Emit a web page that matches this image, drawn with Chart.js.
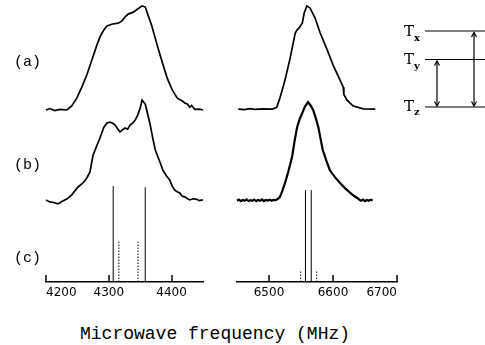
<!DOCTYPE html>
<html>
<head>
<meta charset="utf-8">
<script src="https://cdn.jsdelivr.net/npm/chart.js@4.4.1/dist/chart.umd.min.js"></script>
<style>
  html, body { margin: 0; padding: 0; background: #fff; }
  #wrap { position: relative; width: 485px; height: 345px; overflow: hidden; }
  canvas { position: absolute; top: 0; }
  #left { left: 0; }
  #right { left: 220px; }
  .row { position: absolute; left: 14px; font: 15px "Liberation Mono", monospace; color: #000; line-height: 1; }
  #title { position: absolute; left: 80px; top: 325px; font: 18px "Liberation Mono", monospace; white-space: nowrap; line-height: 1; }
  svg { position: absolute; left: 0; top: 0; }
</style>
</head>
<body>
<div id="wrap">
  <canvas id="left" width="215" height="299"></canvas>
  <canvas id="right" width="197" height="299"></canvas>
  <div class="row" style="top:55px">(a)</div>
  <div class="row" style="top:158px">(b)</div>
  <div class="row" style="top:251px">(c)</div>
  <div id="title">Microwave frequency (MHz)</div>
  <svg width="485" height="345">
    <g stroke="#000" stroke-width="1.2" fill="none">
      <line x1="425" y1="31" x2="485" y2="31"/>
      <line x1="425" y1="59.5" x2="485" y2="59.5"/>
      <line x1="425" y1="107" x2="485" y2="107"/>
      <line x1="437" y1="61" x2="437" y2="106"/>
      <polyline points="434.5,65.5 437,61 439.5,65.5"/>
      <polyline points="434.5,101.5 437,106 439.5,101.5"/>
      <line x1="474" y1="32.5" x2="474" y2="106"/>
      <polyline points="471.5,37 474,32.5 476.5,37"/>
      <polyline points="471.5,101.5 474,106 476.5,101.5"/>
    </g>
    <g font-family="DejaVu Serif" font-size="15" fill="#000">
      <text x="404" y="36">T<tspan font-size="10" font-weight="bold" dy="4.5">x</tspan></text>
      <text x="404" y="64">T<tspan font-size="10" font-weight="bold" dy="5">y</tspan></text>
      <text x="404" y="111">T<tspan font-size="10" font-weight="bold" dy="4">z</tspan></text>
    </g>
  </svg>
</div>
<script>
// trace (a), low-frequency band
const freqA1 = [4200, 4206, 4214, 4222, 4233, 4241, 4249, 4257, 4265, 4273, 4281, 4286, 4292, 4297, 4306, 4315, 4321, 4326, 4331, 4339, 4346, 4353, 4358, 4362, 4369, 4377, 4385, 4393, 4401, 4409, 4417, 4421, 4425, 4429, 4432, 4437, 4444, 4450];
const intA1 = [0, 0.5, -0.2, 0.2, 0, 1.4, 4.2, 8.1, 12.4, 17.7, 23.0, 25.9, 28.4, 29.8, 30.5, 30.8, 31.6, 33.0, 34.0, 34.7, 35.8, 36.9, 36.5, 34.0, 29.4, 23.0, 17.0, 11.3, 7.1, 4.2, 3.2, 2.5, 2.1, 1.0, 1.6, 0.2, 0.3, 0];
// trace (a), high-frequency band
const freqA2 = [6452, 6462, 6470, 6478, 6490, 6505, 6512, 6517, 6525, 6533, 6541, 6544, 6547, 6552, 6555, 6559, 6564, 6572, 6580, 6591, 6600, 6611, 6616, 6617, 6622, 6631, 6647, 6666];
const intA2 = [0.3, 0.1, 0.5, 0.2, 0.4, 0.3, 0.9, 4.2, 10.6, 18.4, 27.3, 28.4, 29.1, 30.8, 34.4, 36.9, 36.2, 32.6, 27.3, 21.3, 16.0, 10.6, 8.1, 5.5, 3.5, 1.5, 0.4, 0.3];
// trace (b), low-frequency band
const freqB1 = [4200, 4206, 4212, 4219, 4226, 4233, 4241, 4251, 4259, 4265, 4270, 4275, 4281, 4286, 4292, 4297, 4302, 4306, 4310, 4314, 4318, 4322, 4326, 4330, 4334, 4338, 4342, 4346, 4350, 4353, 4358, 4362, 4366, 4370, 4374, 4378, 4382, 4386, 4392, 4397, 4401, 4405, 4409, 4413, 4417, 4421, 4425, 4429, 4434, 4439, 4444, 4450];
const intB1 = [0.1, -0.6, -0.8, -1.3, -0.4, 0.4, 1.9, 4.7, 6.1, 7.9, 10.0, 16.0, 19.4, 22.1, 25.8, 27.4, 27.7, 27.3, 26.7, 25.3, 24.2, 25.0, 25.6, 25.2, 26.7, 27.3, 28.4, 30.2, 32.7, 35.5, 34.1, 30.5, 26.7, 22.0, 17.8, 15.5, 13.2, 10.7, 8.6, 7.2, 5.0, 3.6, 3.0, 2.6, 1.4, 1.2, 0.6, 0.1, 0.5, 0.4, -0.1, 0.1];
// trace (b), high-frequency band
const freqB2 = [6450, 6453, 6456, 6459, 6462, 6465, 6468, 6471, 6474, 6477, 6480, 6483, 6486, 6489, 6492, 6495, 6498, 6501, 6504, 6507, 6510, 6513, 6517, 6521, 6525, 6530, 6536, 6540, 6544, 6548, 6552, 6556, 6561, 6565, 6569, 6573, 6577, 6584, 6590, 6595, 6603, 6611, 6619, 6627, 6633, 6638, 6641, 6644, 6647, 6650, 6653, 6656, 6659, 6662];
const intB2 = [-0.2, 0.2, -0.3, 0.1, -0.2, 0.3, -0.3, 0.0, -0.2, 0.2, -0.3, 0.1, -0.2, 0.3, -0.3, 0.1, -0.1, 0.2, -0.2, 0.1, 0.0, 0.3, 1.1, 3.4, 6.1, 10.0, 15.3, 21.0, 26.0, 28.8, 30.9, 33.1, 34.8, 33.6, 32.0, 29.2, 26.0, 17.8, 13.8, 10.7, 8.2, 6.1, 4.2, 2.6, 1.5, 0.8, 0.2, -0.2, 0.2, -0.3, 0.1, -0.2, 0.2, -0.1];
// vertical offsets of the stacked traces
const offsetA = 61;
const offsetB = 29;
// (c) stick spectrum
const solidFreq1 = [4307, 4358];
const solidHeight1 = [34.0, 33.6];
const dotFreq1 = [4316, 4346.5];
const dotHeight1 = [14.3, 14.3];
const solidFreq2 = [6557, 6566];
const solidHeight2 = [32.6, 32.6];
const dotFreq2 = [6549.5, 6574.5];
const dotHeight2 = [4.3, 4.3];
// axis ranges and tick labels
const range1 = [4200, 4450];
const range2 = [6450, 6700];
const ticks1 = [4200, 4300, 4400];
const ticks2 = [6500, 6600, 6700];

const innerTicks = {
    id: 'innerTicks',
    afterDraw(chart) {
        const { ctx, chartArea } = chart;
        const x = chart.scales.x;
        ctx.save();
        ctx.strokeStyle = '#000';
        ctx.lineWidth = 1.5;
        x.ticks.forEach(t => {
            if (!t.major) return;
            const px = Math.round(x.getPixelForValue(t.value));
            ctx.beginPath();
            ctx.moveTo(px, chartArea.bottom);
            ctx.lineTo(px, chartArea.bottom - 7);
            ctx.stroke();
        });
        ctx.restore();
    }
};

function trace(freqs, ints, offset, width) {
    return {
        data: freqs.map((f, i) => ({ x: f, y: ints[i] + offset })),
        borderColor: '#000', borderWidth: width, pointRadius: 0, tension: 0, fill: false, clip: false
    };
}

function sticks(freqs, heights, dashed) {
    return freqs.map((f, i) => ({
        data: [{ x: f, y: 0 }, { x: f, y: heights[i] }],
        borderColor: '#000', borderWidth: 1, pointRadius: 0, fill: false,
        borderDash: dashed ? [1.5, 1.5] : []
    }));
}

function panel(id, range, labels, padLeft, padRight, datasets) {
    new Chart(document.getElementById(id), {
        type: 'line',
        data: { datasets },
        options: {
            responsive: false,
            animation: false,
            devicePixelRatio: 1,
            layout: { padding: { left: padLeft, right: padRight, top: 0, bottom: 0 } },
            plugins: { legend: { display: false }, tooltip: { enabled: false } },
            scales: {
                x: {
                    type: 'linear', min: range[0], max: range[1],
                    grid: { display: false, drawTicks: false },
                    border: { display: true, color: '#000', width: 1.5 },
                    afterBuildTicks: axis => {
                        // labelled ticks, plus blank end ticks so 'inner' alignment pins the outer labels
                        const t = labels.map(v => ({ value: v, major: true }));
                        if (labels[0] !== range[0]) t.unshift({ value: range[0] });
                        if (labels[labels.length - 1] !== range[1]) t.push({ value: range[1] });
                        axis.ticks = t;
                    },
                    afterFit: axis => { axis.height = 17; },
                    ticks: {
                        autoSkip: false, maxRotation: 0, align: 'inner', padding: 4,
                        color: '#000', font: { family: 'DejaVu Sans', size: 12 },
                        callback: v => labels.includes(v) ? String(v) : ''
                    }
                },
                y: { display: false, min: 0, max: 100 }
            }
        },
        plugins: [innerTicks]
    });
}

panel('left', range1, ticks1, 46, 12, [
    trace(freqA1, intA1, offsetA, 1.7),
    trace(freqB1, intB1, offsetB, 1.7),
    ...sticks(solidFreq1, solidHeight1, false),
    ...sticks(dotFreq1, dotHeight1, true)
]);

panel('right', range2, ticks2, 17, 20, [
    trace(freqA2, intA2, offsetA, 1.7),
    trace(freqB2, intB2, offsetB, 2.2),
    ...sticks(solidFreq2, solidHeight2, false),
    ...sticks(dotFreq2, dotHeight2, true)
]);
</script>
</body>
</html>
